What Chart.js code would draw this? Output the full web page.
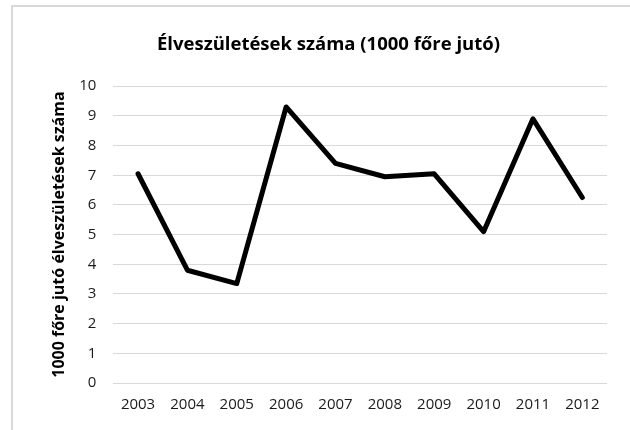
<!DOCTYPE html>
<html lang="hu">
<head>
    <meta charset="UTF-8">
    <title>Élveszületések száma</title>
    <script src="https://cdn.jsdelivr.net/npm/chart.js"></script>
    <style>
        body {
            margin: 0;
            background: #ffffff;
            width: 630px;
            height: 430px;
            overflow: hidden;
        }
        .frame {
            position: absolute;
            left: 11px;
            top: 5px;
            width: 617px;
            height: 423px;
            border-left: 2px solid #d9d9d9;
            border-top: 2px solid #d9d9d9;
        }
        canvas { display: block; }
    </style>
</head>
<body>
    <div class="frame">
        <canvas id="birthChart" width="617" height="423"></canvas>
    </div>

    <script>
        // data
        const years = ['2003', '2004', '2005', '2006', '2007', '2008', '2009', '2010', '2011', '2012'];
        const births = [7.05, 3.8, 3.35, 9.3, 7.4, 6.95, 7.05, 5.1, 8.9, 6.25];
        const yTicks = [0, 1, 2, 3, 4, 5, 6, 7, 8, 9, 10];

        const fontFamily = '"Open Sans", "Noto Sans", sans-serif';

        const ctx = document.getElementById('birthChart').getContext('2d');
        new Chart(ctx, {
            type: 'line',
            data: {
                labels: years,
                datasets: [{
                    label: 'Élveszületések száma',
                    data: births,
                    borderColor: '#000000',
                    borderWidth: 5,
                    pointRadius: 0,
                    tension: 0,
                    borderJoinStyle: 'round',
                    borderCapStyle: 'round',
                    fill: false
                }]
            },
            options: {
                responsive: false,
                animation: false,
                layout: {
                    padding: { top: 0, right: 23, bottom: 3, left: 37 }
                },
                plugins: {
                    legend: { display: false },
                    tooltip: { enabled: false },
                    title: {
                        display: true,
                        text: 'Élveszületések száma (1000 főre jutó)',
                        color: '#000000',
                        font: { family: fontFamily, size: 18.5, weight: 'bold' },
                        padding: { top: 27, bottom: 30 }
                    }
                },
                scales: {
                    x: {
                        offset: true,
                        grid: { display: false, drawTicks: false },
                        border: { display: false },
                        ticks: {
                            color: '#1a1a1a',
                            font: { family: fontFamily, size: 15 },
                            padding: 13,
                            maxRotation: 0
                        }
                    },
                    y: {
                        min: 0,
                        max: 10,
                        afterBuildTicks: axis => {
                            axis.ticks = yTicks.map(v => ({ value: v }));
                        },
                        grid: { color: '#d9d9d9', lineWidth: 1, drawTicks: false },
                        border: { display: false },
                        ticks: {
                            color: '#1a1a1a',
                            font: { family: fontFamily, size: 15 },
                            padding: 17
                        },
                        title: {
                            display: true,
                            text: '1000 főre jutó élveszületések száma',
                            color: '#000000',
                            font: { family: fontFamily, size: 16, weight: 'bold' },
                            padding: { top: 0, bottom: -7 }
                        }
                    }
                }
            }
        });
    </script>
</body>
</html>
